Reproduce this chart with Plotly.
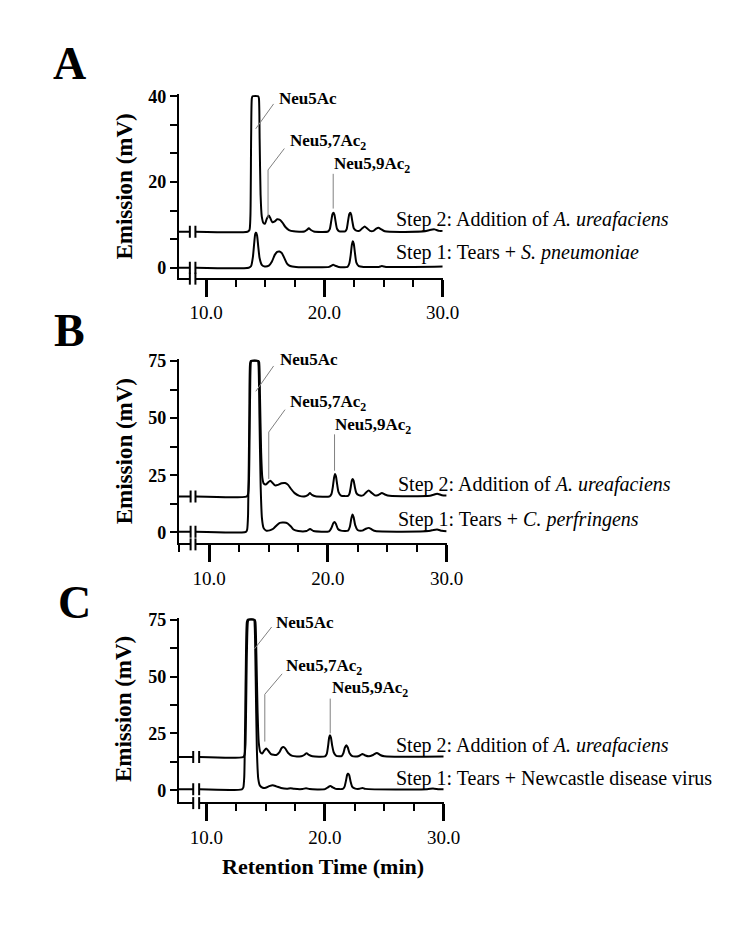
import plotly.graph_objects as go

FONT = "Liberation Serif"

# ---------------- data: (retention time [min], emission [mV]) ----------------
A_STEP2 = [(9.1, 8.4), (13.5, 8.4), (13.66, 8.8), (13.74, 12), (13.8, 30), (13.86, 39.5), (13.92, 40),
           (14.4, 40), (14.46, 39.5), (14.52, 30), (14.6, 17), (14.7, 12.0), (14.85, 10.4), (14.98, 10.3),
           (15.12, 11.4), (15.3, 12.2), (15.45, 11.4), (15.6, 10.6), (15.8, 10.8), (16.0, 11.3), (16.2, 11.2),
           (16.45, 10.5), (16.7, 9.5), (17.0, 8.8), (17.4, 8.5), (18.3, 8.45), (18.5, 8.8), (18.68, 9.2),
           (18.86, 8.8), (19.1, 8.45), (20.3, 8.45), (20.45, 9.0), (20.58, 11.0), (20.68, 12.5), (20.76, 12.8),
           (20.84, 12.4), (20.94, 10.8), (21.06, 9.1), (21.25, 8.5), (21.75, 8.5), (21.88, 9.0), (22.0, 11.0),
           (22.1, 12.5), (22.18, 12.8), (22.26, 12.4), (22.36, 10.8), (22.48, 9.2), (22.65, 8.7), (22.95, 8.6),
           (23.2, 9.2), (23.4, 9.6), (23.6, 9.2), (23.85, 8.6), (24.15, 8.6), (24.38, 9.1), (24.57, 9.3),
           (24.78, 9.0), (25.1, 8.5), (28.5, 8.5), (28.9, 8.8), (29.3, 8.95), (29.7, 8.6), (30.0, 8.6)]
A_STEP1 = [(9.1, 0.0), (13.6, 0.0), (13.8, 0.4), (13.95, 2.5), (14.07, 6.0), (14.15, 7.9), (14.22, 8.2),
           (14.3, 7.6), (14.4, 5.0), (14.52, 2.2), (14.7, 0.7), (14.95, 0.3), (15.3, 0.5), (15.55, 1.4),
           (15.8, 3.0), (16.0, 3.7), (16.2, 3.8), (16.4, 3.4), (16.62, 2.2), (16.85, 0.9), (17.1, 0.4),
           (17.6, 0.2), (20.4, 0.2), (20.6, 0.5), (20.74, 0.7), (20.9, 0.5), (21.2, 0.2), (21.95, 0.2),
           (22.1, 1.0), (22.22, 3.0), (22.32, 5.4), (22.4, 6.2), (22.48, 5.6), (22.58, 3.4), (22.7, 1.2),
           (22.9, 0.4), (23.3, 0.2), (24.6, 0.2), (24.85, 0.4), (25.2, 0.2), (30.0, 0.3)]

B_STEP2 = [(8.85, 15.7), (13.15, 15.7), (13.27, 16.5), (13.35, 22), (13.45, 60), (13.52, 74.5), (13.58, 75),
           (14.15, 75), (14.21, 74.5), (14.28, 60), (14.38, 35), (14.48, 24), (14.6, 21.4), (14.78, 21.0),
           (14.95, 21.8), (15.15, 22.6), (15.35, 21.6), (15.55, 20.6), (15.8, 20.8), (16.1, 21.5), (16.4, 21.6),
           (16.65, 20.8), (16.9, 19.0), (17.2, 17.2), (17.6, 16.0), (18.1, 15.8), (18.3, 16.3), (18.48, 17.2),
           (18.66, 16.4), (18.95, 15.8), (20.15, 15.8), (20.3, 16.8), (20.42, 20.0), (20.52, 24.0), (20.6, 25.6),
           (20.68, 24.6), (20.78, 21.0), (20.9, 17.6), (21.1, 16.1), (21.7, 16.0), (21.82, 17.0), (21.93, 20.0),
           (22.02, 22.8), (22.09, 23.4), (22.17, 22.6), (22.28, 19.6), (22.4, 17.2), (22.6, 16.3), (22.95, 16.2),
           (23.2, 17.4), (23.44, 18.3), (23.66, 17.4), (23.95, 16.2), (24.25, 16.4), (24.55, 17.2), (24.8, 16.6),
           (25.2, 16.0), (28.6, 16.0), (28.9, 16.5), (29.2, 16.9), (29.6, 16.3), (30.0, 16.2)]
B_STEP1 = [(8.85, 0.3), (13.1, 0.3), (13.2, 1.2), (13.28, 8), (13.38, 50), (13.45, 74), (13.52, 75),
           (14.1, 75), (14.16, 73), (14.24, 50), (14.34, 20), (14.45, 6), (14.58, 2.0), (14.8, 0.8), (15.1, 0.9),
           (15.4, 1.6), (15.7, 3.2), (15.95, 4.2), (16.3, 4.3), (16.6, 4.0), (16.85, 2.8), (17.1, 1.3),
           (17.5, 0.6), (18.2, 0.6), (18.5, 1.5), (18.8, 0.6), (20.1, 0.5), (20.28, 1.8), (20.45, 4.0),
           (20.55, 4.6), (20.67, 3.8), (20.85, 1.5), (21.1, 0.8), (21.7, 0.8), (21.85, 2.5), (21.97, 6.0),
           (22.07, 7.8), (22.17, 6.6), (22.3, 3.2), (22.5, 1.1), (22.9, 0.8), (23.2, 1.6), (23.44, 2.0),
           (23.7, 1.3), (24.0, 0.6), (28.5, 0.6), (28.9, 1.1), (29.2, 1.3), (29.6, 0.7), (30.0, 0.5)]

C_STEP2 = [(9.4, 14.6), (13.1, 14.6), (13.22, 15.5), (13.3, 20), (13.42, 60), (13.52, 74.5), (13.6, 75),
           (14.08, 75), (14.14, 74), (14.22, 60), (14.32, 35), (14.42, 21), (14.55, 16.8), (14.72, 16.2),
           (14.88, 17.4), (15.05, 18.4), (15.22, 17.4), (15.45, 15.9), (15.9, 15.5), (16.15, 16.6),
           (16.35, 18.6), (16.5, 19.0), (16.65, 18.4), (16.9, 16.4), (17.25, 15.1), (18.0, 14.9), (18.25, 15.5),
           (18.45, 16.3), (18.65, 15.5), (18.95, 14.9), (20.0, 14.9), (20.15, 16.0), (20.27, 19.8),
           (20.35, 23.2), (20.42, 24.2), (20.5, 23.2), (20.6, 19.8), (20.74, 16.6), (20.95, 15.1), (21.4, 15.0),
           (21.55, 16.3), (21.68, 18.8), (21.8, 19.8), (21.92, 18.8), (22.06, 16.4), (22.3, 15.0), (22.8, 14.9),
           (23.0, 15.5), (23.15, 15.9), (23.35, 15.4), (23.7, 14.9), (24.05, 15.5), (24.37, 16.4),
           (24.65, 15.5), (25.0, 14.9), (30.0, 14.8)]
C_STEP1 = [(9.4, 0.4), (13.0, 0.4), (13.12, 1.2), (13.2, 6), (13.32, 50), (13.42, 74), (13.5, 75),
           (14.02, 75), (14.08, 72), (14.16, 50), (14.26, 18), (14.38, 5), (14.52, 2.0), (14.75, 1.1),
           (15.0, 1.1), (15.3, 1.8), (15.6, 2.2), (15.9, 1.7), (16.3, 1.0), (16.8, 0.7), (17.1, 0.9),
           (17.4, 0.6), (18.1, 0.5), (18.4, 0.9), (18.7, 0.5), (20.0, 0.5), (20.25, 1.3), (20.45, 1.9),
           (20.65, 1.2), (20.9, 0.6), (21.5, 0.6), (21.65, 1.6), (21.78, 4.5), (21.87, 6.8), (21.95, 7.3),
           (22.04, 6.6), (22.15, 4.0), (22.3, 1.5), (22.55, 0.7), (22.9, 0.6), (23.15, 1.0), (23.4, 0.6),
           (28.6, 0.4), (29.1, 0.8), (29.6, 0.4), (30.0, 0.4)]

PANEL_LETTERS = ["A", "B", "C"]
STEP2_LABELS = ["Step 2: Addition of <i>A. ureafaciens</i>"] * 3
STEP1_LABELS = ["Step 1: Tears + <i>S. pneumoniae</i>",
                "Step 1: Tears + <i>C. perfringens</i>",
                "Step 1: Tears + Newcastle disease virus"]
PEAK_NAMES = ["Neu5Ac", "Neu5,7Ac<sub>2</sub>", "Neu5,9Ac<sub>2</sub>"]
Y_TITLE = "Emission (mV)"
X_TITLE = "Retention Time (min)"

DATA = [(A_STEP2, A_STEP1), (B_STEP2, B_STEP1), (C_STEP2, C_STEP1)]

# ---------------- layout / style (pixel geometry of the page) ----------------
W, H = 750, 931
STYLES = [
    dict(xdom=(183, 453), ydom=(86.8, 272), xr=(7.69, 30), yr=(-2.31, 40.5), ydt=20, ymin=20 / 3,
         brk=(8.62, 9.09), letter=(71, 56), ytitle_y=180, text_x=25.9, s2_shift=12, s1_shift=15,
         peaks=[((15.98, 39.4), [(14.19, 32.4), (15.7, 38.2)]),
                ((16.88, 29.4), [(15.23, 11.6), (15.23, 22.8), (16.61, 27.8)]),
                ((20.66, 24.0), [(20.74, 13.8), (20.74, 21.9)])]),
    dict(xdom=(183, 457), ydom=(354.15, 540), xr=(7.45, 30), yr=(-4.77, 75.8), ydt=25, ymin=12.5,
         brk=(8.44, 8.85), letter=(71, 325), ytitle_y=447, text_x=25.7, s2_shift=12, s1_shift=12,
         peaks=[((15.79, 75.7), [(13.93, 61.7), (15.43, 72.8)]),
                ((16.67, 56.6), [(15.02, 23.4), (15.02, 43.9), (16.39, 53.7)]),
                ((20.43, 46.5), [(20.56, 27.0), (20.56, 42.9)])]),
    dict(xdom=(183, 454), ydom=(615.17, 801), xr=(7.69, 30), yr=(-5.23, 75.8), ydt=25, ymin=12.5,
         brk=(8.9, 9.4), letter=(76, 600), ytitle_y=707, text_x=25.8, s2_shift=12, s1_shift=11,
         peaks=[((15.7, 73.7), [(14.05, 62.1), (15.51, 71.8)]),
                ((16.53, 54.1), [(14.93, 21.4), (14.93, 42.2), (16.39, 51.2)]),
                ((20.39, 44.6), [(20.44, 25.0), (20.44, 40.3)])]),
]

fig = go.Figure()
shapes, annotations = [], []
layout_axes = {}

for i, (st, (s2, s1), letter, l2, l1) in enumerate(
        zip(STYLES, DATA, PANEL_LETTERS, STEP2_LABELS, STEP1_LABELS), start=1):
    xa = "x" if i == 1 else f"x{i}"
    ya = "y" if i == 1 else f"y{i}"
    r0, r1 = st["xr"]

    for series in (s2, s1):
        t = [p[0] for p in series]
        v = [p[1] for p in series]
        fig.add_trace(go.Scatter(x=t, y=v, mode="lines", xaxis=xa, yaxis=ya, showlegend=False,
                                 hoverinfo="skip",
                                 line=dict(color="black", width=2, shape="spline", smoothing=0.6)))
        # stub of the baseline before the axis break
        fig.add_trace(go.Scatter(x=[r0, st["brk"][0]], y=[v[0], v[0]], mode="lines", xaxis=xa, yaxis=ya,
                                 showlegend=False, hoverinfo="skip",
                                 line=dict(color="black", width=2)))
        for bx in st["brk"]:
            shapes.append(dict(type="line", xref=xa, yref=ya, x0=bx, x1=bx, ysizemode="pixel",
                               yanchor=v[0], y0=-6, y1=6, line=dict(color="black", width=2)))

    # break mark on the x axis line
    f = lambda x: (x - r0) / (r1 - r0)
    shapes.append(dict(type="rect", xref=f"{xa} domain", yref=f"{ya} domain",
                       x0=f(st["brk"][0]), x1=f(st["brk"][1]), ysizemode="pixel", yanchor=0,
                       y0=-5, y1=3, fillcolor="white", line=dict(width=0)))
    for bx in st["brk"]:
        shapes.append(dict(type="line", xref=f"{xa} domain", yref=f"{ya} domain", x0=f(bx), x1=f(bx),
                           ysizemode="pixel", yanchor=0, y0=-7, y1=5, line=dict(color="black", width=2)))

    # peak labels with leader lines
    for name, ((tx, ty), pts) in zip(PEAK_NAMES, st["peaks"]):
        annotations.append(dict(xref=xa, yref=ya, x=tx, y=ty, text=name, showarrow=False,
                                xanchor="left", yanchor="middle",
                                font=dict(family=FONT, size=17, color="black", weight="bold")))
        for (xa0, ya0), (xa1, ya1) in zip(pts[:-1], pts[1:]):
            shapes.append(dict(type="line", xref=xa, yref=ya, x0=xa0, y0=ya0, x1=xa1, y1=ya1,
                               line=dict(color="#808080", width=1)))

    # step labels
    annotations.append(dict(xref=xa, yref=ya, x=st["text_x"], y=s2[0][1], yshift=st["s2_shift"], text=l2,
                            showarrow=False, xanchor="left", yanchor="middle",
                            font=dict(family=FONT, size=20, color="black")))
    annotations.append(dict(xref=xa, yref=ya, x=st["text_x"], y=s1[0][1], yshift=st["s1_shift"], text=l1,
                            showarrow=False, xanchor="left", yanchor="middle",
                            font=dict(family=FONT, size=20, color="black")))

    # panel letter and y title
    annotations.append(dict(xref="paper", yref="paper", x=st["letter"][0] / W, y=1 - st["letter"][1] / H,
                            text=letter, showarrow=False, xanchor="center", yanchor="middle",
                            font=dict(family=FONT, size=46, color="black", weight="bold")))
    annotations.append(dict(xref="paper", yref="paper", x=127 / W, y=1 - st["ytitle_y"] / H,
                            text=Y_TITLE, showarrow=False, textangle=-90, xanchor="center",
                            yanchor="middle",
                            font=dict(family=FONT, size=23, color="black", weight="bold")))

    xkey = "xaxis" if i == 1 else f"xaxis{i}"
    ykey = "yaxis" if i == 1 else f"yaxis{i}"
    layout_axes[xkey] = dict(
        domain=[st["xdom"][0] / W, st["xdom"][1] / W], range=list(st["xr"]), anchor=ya,
        showline=True, linewidth=2, linecolor="black", showgrid=False, zeroline=False,
        ticks="outside", ticklen=17, tickwidth=3, tickcolor="black", tick0=10, dtick=10,
        tickformat=".1f", tickfont=dict(family=FONT, size=19, color="black"),
        minor=dict(ticks="outside", ticklen=7, tickwidth=2, tickcolor="black", tick0=10, dtick=2.5,
                   showgrid=False))
    layout_axes[ykey] = dict(
        domain=[1 - st["ydom"][1] / H, 1 - st["ydom"][0] / H], range=list(st["yr"]), anchor=xa,
        showline=True, linewidth=2, linecolor="black", showgrid=False, zeroline=False,
        ticks="outside", ticklen=7, tickwidth=2, tickcolor="black", tick0=0, dtick=st["ydt"],
        tickformat="d", tickfont=dict(family=FONT, size=18, color="black", weight="bold"),
        minor=dict(ticks="outside", ticklen=7, tickwidth=2, tickcolor="black", tick0=0, dtick=st["ymin"],
                   showgrid=False))

annotations.append(dict(xref="paper", yref="paper", x=331 / W, y=1 - 866 / H, text=X_TITLE,
                        showarrow=False, xanchor="center", yanchor="middle",
                        font=dict(family=FONT, size=22, color="black", weight="bold")))

fig.update_layout(width=W, height=H, margin=dict(l=0, r=0, t=0, b=0), paper_bgcolor="white",
                  plot_bgcolor="white", shapes=shapes, annotations=annotations, showlegend=False,
                  **layout_axes)

fig.write_html("out.html", config={"displayModeBar": False},
               post_script="document.body.style.margin='0px';")
